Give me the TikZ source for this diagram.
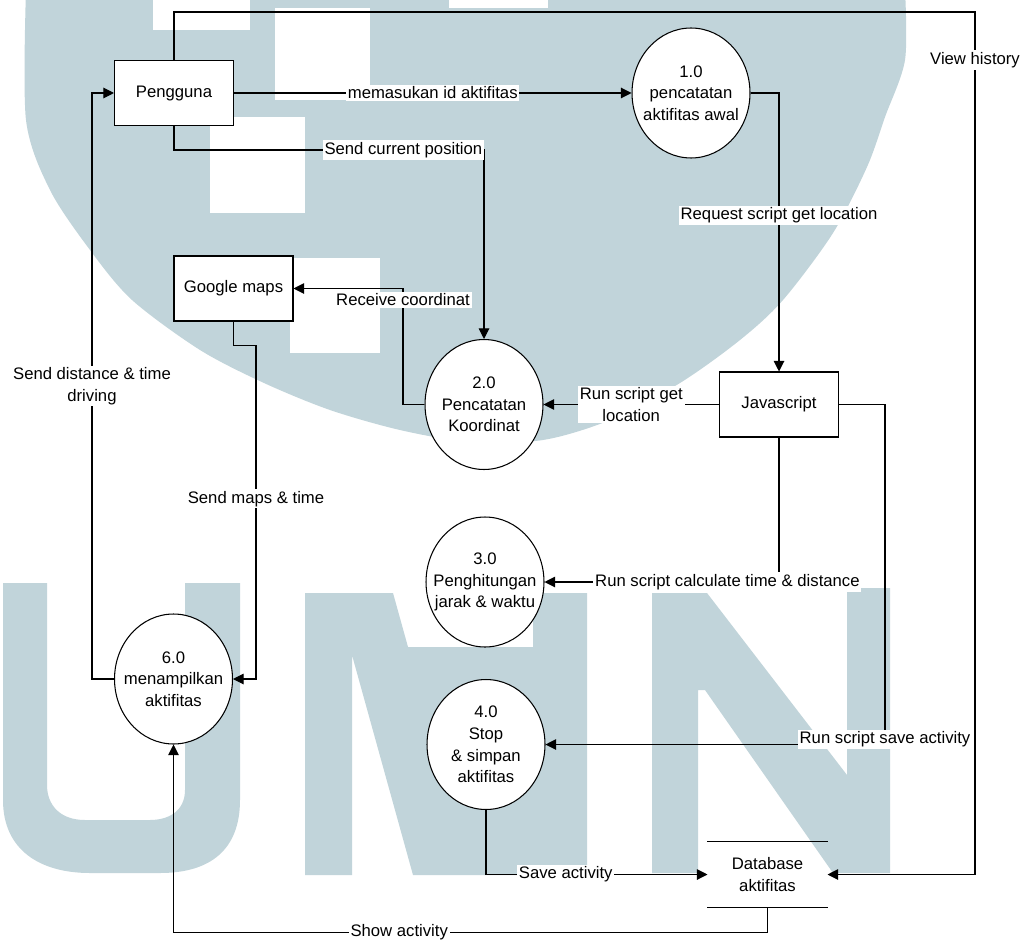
\documentclass[tikz,border=0pt]{standalone}
\usepackage{fontspec}
\setmainfont{Liberation Sans}
\usetikzlibrary{shapes.geometric, arrows.meta}
\definecolor{umn}{RGB}{193,212,218}

\begin{document}
\begin{tikzpicture}[x=0.02cm, y=-0.02cm, >={Triangle[length=6pt,width=6pt]},
  line width=0.6pt, font=\fontsize{9.5}{12.3}\selectfont,
  every node/.style={align=center},
  entity/.style={draw, fill=white, minimum width=2.38cm, minimum height=1.3cm},
  proc/.style={ellipse, draw, fill=white, inner sep=-2mm, minimum width=2.36cm, minimum height=2.6cm},
  store/.style={minimum width=2.38cm, minimum height=1.3cm},
  flow/.style={fill=white, inner sep=1pt}]
  \fill[white] (0,0) rectangle (1030,939);
  \useasboundingbox (0,0) rectangle (1030,939);

  % watermark
  \begin{scope}
    \clip (0,0) rectangle (1030,939);
    \fill[umn] plot[smooth] coordinates {(26,-10) (26,120) (50,190) (90,250) (132,300)
      (200,350) (264,383) (330,410) (400,430) (470,442) (543,440) (610,420) (680,383)
      (740,340) (783,300) (833,233) (867,167) (885,117) (905,60) (905,-10)} -- cycle;
    \fill[white] (153,-5) rectangle (250,30);
    \fill[white] (275,8) rectangle (370,100);
    \fill[white] (449,-5) rectangle (548,8);
    \fill[white] (210,117) rectangle (305,213);
    \fill[white] (290,258) rectangle (380,353);
    \fill[umn] (3,583) -- (3,800) .. controls (3,850) and (40,873) .. (90,873) -- (160,873)
      .. controls (210,873) and (240,850) .. (240,800) -- (240,583) -- (185,583) -- (185,790)
      .. controls (185,810) and (170,820) .. (150,820) -- (85,820)
      .. controls (60,820) and (47,805) .. (47,785) -- (47,583) -- cycle;
    \fill[umn] (305,593) -- (393,593) -- (408,647) -- (533,647) -- (533,593) -- (587,593)
      -- (587,875) -- (413,875) -- (352,655) -- (352,875) -- (305,875) -- cycle;
    \fill[umn] (652,593) -- (707,593) -- (847,775) -- (847,588) -- (890,588) -- (890,873)
      -- (833,873) -- (705,690) -- (698,690) -- (698,873) -- (652,873) -- cycle;
  \end{scope}

  \node[entity] (user) at (174,93) {Pengguna};
  \node[proc] (p1) at (691,93) {1.0\\pencatatan\\aktifitas awal};
  \node[entity] (gmaps) at (233.5,288.5) {Google maps};
  \node[proc] (p2) at (484,404.5) {2.0\\Pencatatan\\Koordinat};
  \node[entity] (js) at (779,404.5) {Javascript};
  \node[proc] (p3) at (485,582) {3.0\\Penghitungan\\jarak \& waktu};
  \node[proc] (p4) at (486,744.5) {4.0\\Stop\\\& simpan\\aktifitas};
  \node[proc] (p6) at (173.5,679) {6.0\\menampilkan\\aktifitas};
  \node[store] (db) at (767.5,874.5) {Database\\aktifitas};
  \draw (db.north west) -- (db.north east) (db.south west) -- (db.south east);

  \coordinate (top) at (975,12);
  \coordinate (c1) at (484,150);
  \coordinate (c2) at (403,288.5);
  \coordinate (c4) at (885,744.5);
  \coordinate (c6) at (256,679);

  \draw[->] (user.east) -- node[flow] {memasukan id aktifitas} (p1.west);
  \draw[->] (user.north) |- (top) |- (db.east);
  \node[flow] (hist) at (975,60) {View history};
  \draw[->] (user.south) |- node[flow, pos=0.87] {Send current position} (c1) -- (p2.north);
  \draw[->] (p1.east) -| node[flow, pos=0.72] {Request script get location} (js.north);
  \draw[->] (p2.west) -| (c2) -- (gmaps.east);
  \node[flow] (recv) at (403,300) {Receive coordinat};
  \draw[->] (js.west) -- node[flow] {Run script get\\location} (p2.east);
  \draw[->] (js.south) |- node[flow, pos=0.61] {Run script calculate time \& distance} (p3.east);
  \draw[->] (js.east) -| (c4) node[flow, yshift=3pt] {Run script save activity} -- (p4.east);
  \draw[->] (p4.south) |- node[flow, pos=0.68] {Save activity} (db.west);
  \draw[->] (db.south) -- ++(0,25) -| node[flow, pos=0.31] {Show activity} (p6.south);
  \draw[->] (gmaps.south) -- ++(0,24) -| node[flow, pos=0.73] {Send maps \& time} (c6) -- (p6.east);
  \draw[->] (p6.west) -- ++(-22,0) |- node[flow, pos=0.25] {Send distance \& time\\driving} (user.west);
\end{tikzpicture}
\end{document}
